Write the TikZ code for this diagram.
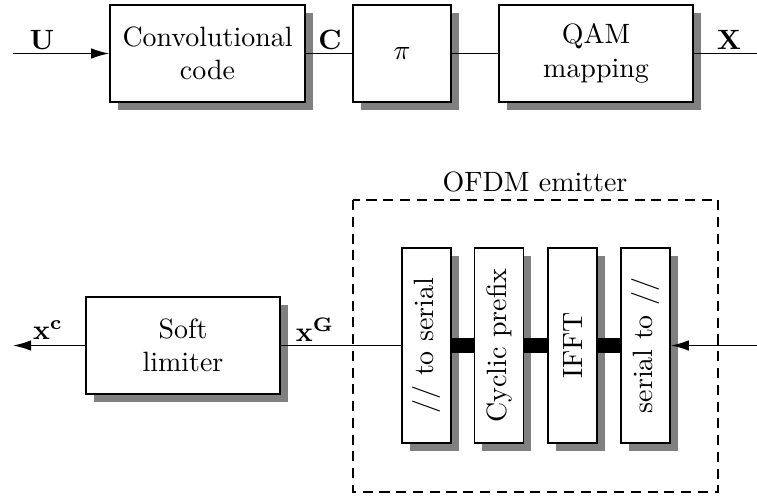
\documentclass[tikz,border=0pt]{standalone}
\usetikzlibrary{shadows,arrows.meta}
\newdimen\px \px=0.358pt
\begin{document}
\begin{tikzpicture}[x=0.358pt,y=-0.358pt,
  box/.style={draw, fill=white, line width=0.55pt, inner sep=0pt, align=center,
    drop shadow={shadow xshift=2.85pt, shadow yshift=-2.85pt, fill=black!50, opacity=1}},
  wide/.style={box, minimum width={195*\px}, minimum height={97*\px}},
  tall/.style={box, minimum width={49*\px}, minimum height={195*\px}},
  lab/.style={inner sep=0pt},
  wire/.style={line width=0.55pt},
  bus/.style={line width=5.6pt},
  arr/.style={wire, -{Latex[length=6.5pt,width=3.8pt]}},
  frame/.style={line width=0.55pt, dash pattern=on 3.6pt off 2.4pt}
]
\useasboundingbox (0,0) rectangle (757,495);
% top chain
\node[wide] (conv) at (207.5,53.5) {Convolutional\\code};
\node[box, minimum width={98*\px}, minimum height={97*\px}] (pi) at (402,53.5) {$\pi$};
\node[wide, minimum width={194*\px}] (qam) at (596,53.5) {QAM\\mapping};
\coordinate (in) at (13,53.5);
\coordinate (out) at (757,53.5);
\draw[arr] (in) -- (conv);
\draw[wire] (conv) -- (pi);
\draw[wire] (pi) -- (qam);
\draw[wire] (qam) -- (out);
\node[lab] (lU) at (42,40) {$\mathbf{U}$};
\node[lab] (lC) at (330,40) {$\mathbf{C}$};
\node[lab] (lX) at (729,40) {$\mathbf{X}$};
% OFDM emitter frame
\draw[frame] (353,200) rectangle (718,492);
\node[lab] (ofdm) at (535,182) {OFDM emitter};
% bottom chain
\node[wide, minimum width={194*\px}] (soft) at (183,345.5) {Soft\\limiter};
\node[tall] (ps) at (426.5,345.5) {\rotatebox{90}{// to serial}};
\node[tall] (cp) at (499,345.5) {\rotatebox{90}{Cyclic prefix}};
\node[tall] (ifft) at (572.5,345.5) {\rotatebox{90}{IFFT}};
\node[tall] (sp) at (645.5,345.5) {\rotatebox{90}{serial to //}};
\coordinate (xc) at (13,345.5);
\coordinate (inR) at (757,345.5);
\draw[arr] (soft) -- (xc);
\draw[wire] (soft) -- (ps);
\draw[bus] (ps) -- (cp);
\draw[bus] (cp) -- (ifft);
\draw[bus] (ifft) -- (sp);
\draw[arr] (inR) -- (sp);
\node[lab] (lxc) at (48,330) {$\mathbf{x}^{\mathbf{c}}$};
\node[lab] (lxG) at (315,330) {$\mathbf{x}^{\mathbf{G}}$};
\end{tikzpicture}
\end{document}
